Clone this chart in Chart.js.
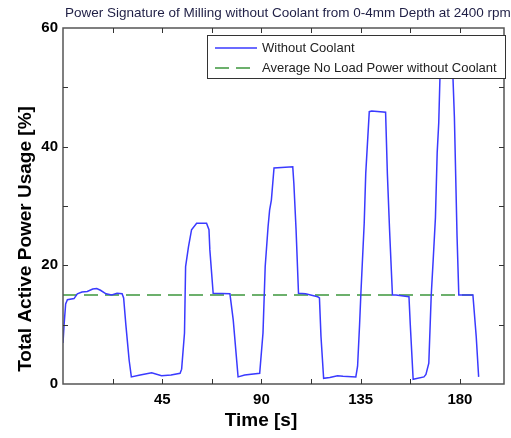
<!DOCTYPE html>
<html>
<head>
<meta charset="utf-8">
<script src="https://cdn.jsdelivr.net/npm/chart.js@4.4.0/dist/chart.umd.min.js"></script>
<style>
    body { margin: 0; background: #fff; }
    #wrap { width: 511px; height: 438px; }
</style>
</head>
<body>
<div id="wrap"><canvas id="powerChart" width="511" height="438"></canvas></div>
<script>
var timeS = [0, 0.5, 1.2, 2, 5, 6.5, 8.6, 11, 13.5, 15.3, 17, 19.5, 22.1, 24.5, 26.8, 27.5, 28.5, 30, 31, 35,
    40.2, 44.7, 49, 53.1, 53.8, 55.1, 55.6, 56.9, 58.3, 60.6, 65.1, 66.2, 66.6, 68.1, 75.7, 77.2, 79.4, 82.4, 89.2, 90.7,
    91.7, 93, 93.7, 94.5, 95.7, 104.2, 104.7, 105.7, 106.8, 110, 115.5, 116.3, 117, 118.2, 121, 124.5, 127, 132.8, 133.6, 134.5,
    135.1, 136.6, 137.3, 138.9, 140, 146.3, 147.1, 148.1, 149.4, 151, 156.9, 157.5, 158.8, 163.7, 164.6, 165.9, 167, 167.9, 168.9, 169.7,
    170.4, 171.2, 176.5, 177.5, 178.7, 179.5, 185.9, 187.4, 188.5];
var powerPct = [6.9, 10, 13.5, 14.2, 14.4, 15.2, 15.5, 15.6, 16, 16.1, 15.8, 15.2, 15.0, 15.3, 15.2, 14.5, 10, 4, 1.2, 1.5,
    1.9, 1.4, 1.5, 1.8, 2.5, 8.6, 19.8, 23.1, 26, 27.1, 27.1, 26, 22.6, 15.3, 15.2, 10.8, 1.2, 1.5, 1.8, 8.6,
    19.8, 26.5, 29.3, 31, 36.4, 36.6, 33.8, 26, 15.3, 15.2, 14.7, 14.5, 8, 0.95, 1.1, 1.4, 1.3, 1.2, 3, 10,
    15.3, 27.1, 35.5, 45.9, 46, 45.8, 35.5, 26, 15, 15, 14.7, 10, 0.8, 1.2, 1.6, 3.5, 15, 21, 28, 39,
    44, 55, 55.3, 45, 25, 15, 15, 8, 1.2];

// average no load power line
var avgTime = [0, 186];
var avgPower = [15, 15];

var xLabels = [45, 90, 135, 180];
var yLabels = [0, 20, 40, 60];

var titleText = 'Power Signature of Milling without Coolant from 0-4mm Depth at 2400 rpm';
var xTitle = 'Time [s]';
var yTitle = 'Total Active Power Usage [%]';

var FONT = "'Liberation Sans', Arial, sans-serif";

function toPoints(xs, ys) {
    return xs.map(function(x, i) { return { x: x, y: ys[i] }; });
}

// frame, inward ticks, legend box and titles (matlab look)
var decorPlugin = {
    id: 'decor',
    afterDatasetsDraw: function(chart) {
        var ctx = chart.ctx;
        var a = chart.chartArea;
        var xs = chart.scales.x, ys = chart.scales.y;
        ctx.save();

        // box
        ctx.strokeStyle = '#555';
        ctx.lineWidth = 1.5;
        ctx.strokeRect(a.left, a.top, a.right - a.left, a.bottom - a.top);

        // inward ticks
        ctx.lineWidth = 1;
        ctx.strokeStyle = '#333';
        ctx.beginPath();
        xs.ticks.forEach(function(t) {
            if (t.value <= 0 || t.value >= 200) return;
            var px = Math.round(xs.getPixelForValue(t.value)) + 0.5;
            ctx.moveTo(px, a.bottom); ctx.lineTo(px, a.bottom - 5);
            ctx.moveTo(px, a.top); ctx.lineTo(px, a.top + 5);
        });
        ys.ticks.forEach(function(t) {
            if (t.value <= 0 || t.value >= 60) return;
            var py = Math.round(ys.getPixelForValue(t.value)) + 0.5;
            ctx.moveTo(a.left, py); ctx.lineTo(a.left + 5, py);
            ctx.moveTo(a.right, py); ctx.lineTo(a.right - 5, py);
        });
        ctx.stroke();

        // legend
        var lx = a.left + 144, ly = a.top + 7, lw = 298, lh = 43;
        ctx.fillStyle = '#fff';
        ctx.fillRect(lx, ly, lw, lh);
        ctx.strokeStyle = '#333';
        ctx.lineWidth = 1;
        ctx.strokeRect(lx + 0.5, ly + 0.5, lw, lh);
        ctx.font = '13px ' + FONT;
        ctx.textBaseline = 'middle';
        ctx.textAlign = 'left';
        chart.data.datasets.forEach(function(ds, i) {
            var rowY = ly + 13 + i * 20;
            ctx.beginPath();
            ctx.strokeStyle = ds.borderColor;
            ctx.lineWidth = 1.5;
            ctx.setLineDash(ds.borderDash || []);
            ctx.moveTo(lx + 8, rowY);
            ctx.lineTo(lx + 50, rowY);
            ctx.stroke();
            ctx.setLineDash([]);
            ctx.fillStyle = '#222';
            ctx.fillText(ds.label, lx + 55, rowY);
        });

        // chart title
        ctx.fillStyle = '#1f1f45';
        ctx.font = '13.5px ' + FONT;
        ctx.textBaseline = 'alphabetic';
        ctx.fillText(titleText, 65, 17);

        // axis titles
        ctx.fillStyle = '#000';
        ctx.font = 'bold 19px ' + FONT;
        ctx.textAlign = 'center';
        ctx.textBaseline = 'middle';
        ctx.fillText(xTitle, 261, 421);
        ctx.translate(26, 239);
        ctx.rotate(-Math.PI / 2);
        ctx.fillText(yTitle, 0, 0);

        ctx.restore();
    }
};

var ctx = document.getElementById('powerChart').getContext('2d');
var powerChart = new Chart(ctx, {
    type: 'line',
    data: {
        datasets: [
            {
                label: 'Without Coolant',
                data: toPoints(timeS, powerPct),
                borderColor: '#3a3aff',
                borderWidth: 1.5,
                pointRadius: 0,
                tension: 0
            },
            {
                label: 'Average No Load Power without Coolant',
                data: toPoints(avgTime, avgPower),
                borderColor: '#3c963c',
                borderWidth: 1.5,
                borderDash: [14, 7],
                pointRadius: 0,
                tension: 0
            }
        ]
    },
    options: {
        responsive: false,
        animation: false,
        layout: { padding: { top: 28, right: 2, left: 0, bottom: 0 } },
        plugins: {
            legend: { display: false },
            title: { display: false },
            tooltip: { enabled: false }
        },
        scales: {
            x: {
                type: 'linear',
                min: 0,
                max: 200,
                grid: { display: false, drawTicks: false },
                border: { display: false },
                ticks: {
                    stepSize: 22.5,
                    autoSkip: false,
                    maxRotation: 0,
                    padding: 7,
                    color: '#000',
                    font: { family: FONT, size: 15, weight: 'bold' },
                    callback: function(v) { return xLabels.indexOf(v) >= 0 ? String(v) : ''; }
                },
                afterFit: function(s) { s.height = 54; }
            },
            y: {
                min: 0,
                max: 60,
                grid: { display: false, drawTicks: false },
                border: { display: false },
                ticks: {
                    stepSize: 10,
                    padding: 5,
                    color: '#000',
                    font: { family: FONT, size: 15, weight: 'bold' },
                    callback: function(v) { return yLabels.indexOf(v) >= 0 ? String(v) : ''; }
                },
                afterFit: function(s) { s.width = 63; }
            }
        }
    },
    plugins: [decorPlugin]
});
</script>
</body>
</html>
